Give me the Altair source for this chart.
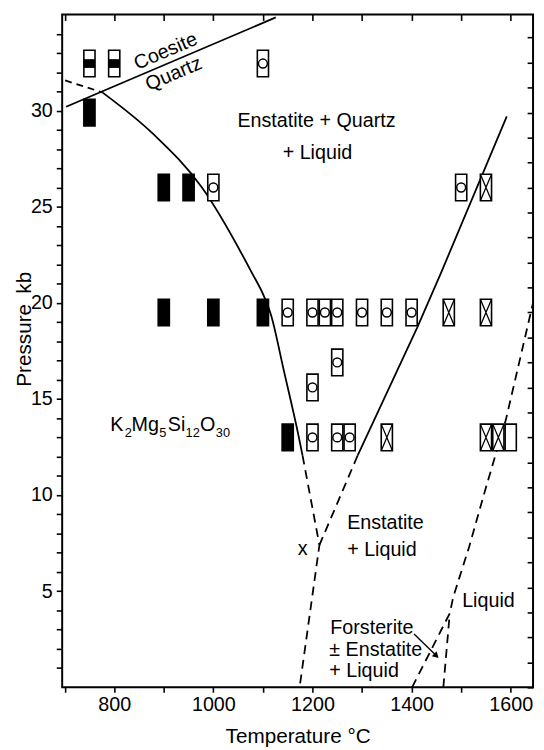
import altair as alt
import pandas as pd

# ---------------- axes ----------------
T_DOMAIN = [695, 1645]
P_DOMAIN = [0, 35]
x_ticks = [700, 800, 900, 1000, 1100, 1200, 1300, 1400, 1500, 1600]
y_ticks = list(range(1, 35))
right_ticks = [round(1.3 * i, 2) for i in range(27)]

# ---------------- experiments ----------------
exp_T = [750, 800, 1100,
         750,
         900, 950, 1000, 1500, 1550,
         900, 1000, 1100, 1150, 1200, 1225, 1250, 1300, 1350, 1400, 1475, 1550,
         1250,
         1200,
         1150, 1200, 1250, 1275, 1350, 1550, 1575, 1600]
exp_P = [32.45] * 3 + [29.9] + [26.0] * 5 + [19.5] * 12 + [16.9] + [15.6] + [13.0] * 8
exp_kind = ["half", "half", "circle",
            "filled",
            "filled", "filled", "circle", "circle", "cross",
            "filled", "filled", "filled", "circle", "circle", "circle", "circle",
            "circle", "circle", "circle", "cross", "cross",
            "circle",
            "circle",
            "filled", "circle", "circle", "circle", "cross", "cross", "cross", "open"]
kinds = ["filled", "half", "circle", "cross", "open"]
kind_fill = ["black", "white", "white", "white", "white"]

# ---------------- phase boundaries ----------------
coesite_T = [703, 1126]
coesite_P = [30.2, 34.85]
qz_meta_T = [701, 776]
qz_meta_P = [31.57, 30.95]
solidus_T = [776, 878, 977, 1077, 1102, 1116, 1142, 1172, 1180]
solidus_P = [30.95, 28.8, 26.0, 21.6, 20.35, 19.4, 16.5, 13.07, 12.05]
solidus_ext_T = [1180, 1214, 1174]
solidus_ext_P = [12.05, 7.4, 0]
liquidus_T = [1592, 1460, 1411, 1291]
liquidus_P = [29.7, 21.6, 18.7, 12.05]
liquidus_ext_T = [1291, 1214]
liquidus_ext_P = [12.05, 7.4]
fo1_T = [1401, 1477, 1484, 1516, 1550, 1590, 1645]
fo1_P = [0, 3.85, 4.7, 7.3, 10.4, 13.9, 20.0]
fo2_T = [1464, 1477]
fo2_P = [0, 3.85]
arrow_T = [1405, 1450]
arrow_P = [2.77, 1.64]

# ---------------- labels ----------------
center_labels = ["Enstatite + Quartz", "+ Liquid", "x"]
center_T = [1208, 1210, 1180]
center_P = [29.44, 27.8, 7.18]
left_labels = ["Enstatite", "+ Liquid", "Liquid",
               "Forsterite", "± Enstatite", "+ Liquid"]
left_T = [1270, 1270, 1502, 1236, 1234, 1234]
left_P = [8.56, 7.13, 4.5, 3.1, 1.95, 0.87]
rot_labels = ["Coesite", "Quartz"]
rot_T = [904, 920]
rot_P = [33.08, 31.9]
# chemical formula K2Mg5Si12O30, written piece by piece (main text / subscript)
formula_parts = ["K", "2", "Mg", "5", "Si", "12", "O", "30"]
formula_T = [792, 821, 835, 891, 908, 944, 973, 1005]
formula_sub = [0, 1, 0, 1, 0, 1, 0, 1]
formula_P_main = 13.33
formula_P_sub = 13.02

FONT = "Liberation Sans"
FS = 20
FS_TITLE = 21
LW = 1.8
xs = alt.Scale(domain=T_DOMAIN, nice=False, zero=False)
ys = alt.Scale(domain=P_DOMAIN, nice=False, zero=False)

x_bottom = alt.Axis(orient="bottom", values=x_ticks, format="d",
                    labelExpr="datum.value % 200 == 0 ? datum.label : ''",
                    tickSize=5, tickWidth=1.6, tickColor="black",
                    labelPadding=3, labelFont=FONT, labelFontSize=FS, labelColor="black",
                    domain=False, grid=False, title="Temperature °C",
                    titleFont=FONT, titleFontSize=FS_TITLE, titleFontWeight="normal",
                    titleColor="black", titleY=50, titleBaseline="middle")
y_left = alt.Axis(orient="left", values=y_ticks,
                  labelExpr="datum.value % 5 == 0 ? datum.label : ''",
                  tickSize=6, tickWidth=1.6, tickColor="black",
                  labelPadding=4, labelFont=FONT, labelFontSize=FS, labelColor="black",
                  domain=False, grid=False, title="Pressure\u2002kb",
                  titleFont=FONT, titleFontSize=FS_TITLE, titleFontWeight="normal",
                  titleColor="black", titleX=-38, titleY=319,
                  titleBaseline="middle", titleAngle=270)
x_top = alt.Axis(orient="top", values=x_ticks, labels=False, tickSize=6, tickWidth=1.6,
                 tickColor="black", offset=-6, domain=False, grid=False, title="")
y_right = alt.Axis(orient="right", values=right_ticks, labels=False, tickSize=6,
                   tickWidth=1.6, tickColor="black", offset=-6, domain=False,
                   grid=False, title="")


def seg_df(T, P):
    return pd.DataFrame({"T": T, "P": P, "i": list(range(len(T)))})


def line_layer(T, P, dash=None, interp="linear", width=LW, xax=None, yax=None):
    kw = dict(color="black", strokeWidth=width, interpolate=interp, clip=True)
    if dash:
        kw["strokeDash"] = dash
    return alt.Chart(seg_df(T, P)).mark_line(**kw).encode(
        x=alt.X("T:Q", scale=xs, axis=xax),
        y=alt.Y("P:Q", scale=ys, axis=yax),
        order="i:Q",
    )


DASH = [9, 6]
lines = [
    line_layer(coesite_T, coesite_P, xax=x_bottom, yax=y_left),
    line_layer(qz_meta_T, qz_meta_P, dash=[7, 5]),
    line_layer(solidus_T, solidus_P, interp="monotone"),
    line_layer(solidus_ext_T, solidus_ext_P, dash=DASH),
    line_layer(liquidus_T, liquidus_P),
    line_layer(liquidus_ext_T, liquidus_ext_P, dash=DASH),
    line_layer(fo1_T, fo1_P, dash=DASH),
    line_layer(fo2_T, fo2_P, dash=DASH),
    line_layer(arrow_T, arrow_P, width=1.4),
]

enc = dict(x=alt.X("T:Q", scale=xs, axis=None), y=alt.Y("P:Q", scale=ys, axis=None))

arrow_head = alt.Chart(pd.DataFrame({"T": arrow_T[-1:], "P": arrow_P[-1:]})).mark_point(
    shape="triangle-right", size=50, filled=True, angle=44, color="black", opacity=1
).encode(**enc)

box_df = pd.DataFrame({"T": exp_T, "P": exp_P, "kind": exp_kind})
RECT = "M-0.42,-1H0.42V1H-0.42Z"
BAND = "M-0.42,-0.33H0.42V0.33H-0.42Z"
XPATH = "M-0.42,-1L0.42,1M0.42,-1L-0.42,1"

boxes = alt.Chart(box_df).mark_point(
    shape=RECT, size=729, filled=True, stroke="black", strokeWidth=1.6, opacity=1
).encode(
    x=alt.X("T:Q", scale=xs, axis=x_top),
    y=alt.Y("P:Q", scale=ys, axis=y_right),
    fill=alt.Fill("kind:N", scale=alt.Scale(domain=kinds, range=kind_fill), legend=None),
)
bands = alt.Chart(box_df).transform_filter(alt.datum.kind == "half").mark_point(
    shape=BAND, size=729, filled=True, color="black", opacity=1, strokeWidth=0
).encode(**enc)
circles = alt.Chart(box_df).transform_filter(alt.datum.kind == "circle").mark_point(
    shape="circle", size=81, filled=False, color="black", strokeWidth=1.5, opacity=1
).encode(**enc)
crosses = alt.Chart(box_df).transform_filter(alt.datum.kind == "cross").mark_point(
    shape=XPATH, size=729, filled=False, color="black", strokeWidth=1.3, opacity=1
).encode(**enc)

txt_kw = dict(font=FONT, fontSize=FS, color="black", baseline="middle")
center_txt = alt.Chart(pd.DataFrame({"T": center_T, "P": center_P, "t": center_labels})).mark_text(
    align="center", **txt_kw).encode(text="t:N", **enc)
left_txt = alt.Chart(pd.DataFrame({"T": left_T, "P": left_P, "t": left_labels})).mark_text(
    align="left", **txt_kw).encode(text="t:N", **enc)
rot_txt = alt.Chart(pd.DataFrame({"T": rot_T, "P": rot_P, "t": rot_labels})).mark_text(
    align="center", angle=337, **txt_kw).encode(text="t:N", **enc)

formula_df = pd.DataFrame({
    "T": formula_T,
    "P": [formula_P_sub if s else formula_P_main for s in formula_sub],
    "t": formula_parts,
    "sub": formula_sub,
})
formula_main = alt.Chart(formula_df).transform_filter(alt.datum.sub == 0).mark_text(
    align="left", baseline="alphabetic", font=FONT, fontSize=FS, color="black"
).encode(text="t:N", **enc)
formula_subs = alt.Chart(formula_df).transform_filter(alt.datum.sub == 1).mark_text(
    align="left", baseline="alphabetic", font=FONT, fontSize=13, color="black"
).encode(text="t:N", **enc)

chart = alt.layer(
    *lines, arrow_head, boxes, bands, circles, crosses,
    center_txt, left_txt, rot_txt, formula_main, formula_subs
).resolve_axis(x="independent", y="independent").properties(
    width=478, height=683,
    padding={"left": 55, "top": 1, "right": 3, "bottom": 57},
    autosize=alt.AutoSizeParams(type="none"),
    background="white",
).configure_view(stroke="black", strokeWidth=2)

chart.save("out.html", embed_options={"renderer": "svg", "actions": False})
